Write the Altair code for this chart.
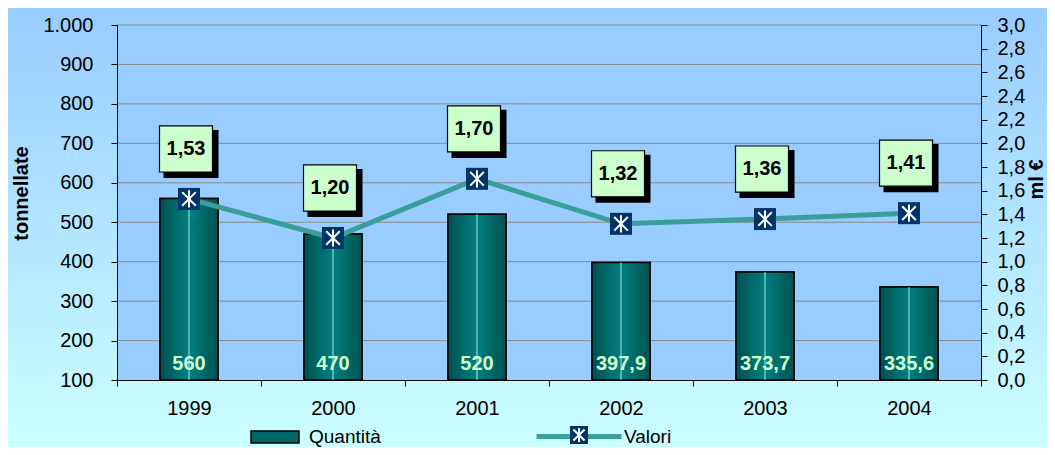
import altair as alt
import pandas as pd

years = ["1999", "2000", "2001", "2002", "2003", "2004"]
quantita = [560, 470, 520, 397.9, 373.7, 335.6]
valori = [1.53, 1.20, 1.70, 1.32, 1.36, 1.41]
quantita_labels = ["560", "470", "520", "397,9", "373,7", "335,6"]
valori_labels = ["1,53", "1,20", "1,70", "1,32", "1,36", "1,41"]
left_ticks = list(range(100, 1001, 100))
right_ticks = [round(i * 0.2, 1) for i in range(16)]
grid_values = list(range(200, 1001, 100))

W, H = 864, 355
PL, PT, PR, PB = 109, 17, 66, 67

df = pd.DataFrame({
    "year": years, "q": quantita, "v": valori,
    "ql": quantita_labels, "vl": valori_labels,
    "sq": "Quantità", "sv": "Valori", "sv2": "v2", "sv3": "v3",
})
grid_df = pd.DataFrame({"q": grid_values})
one = pd.DataFrame({"a": [0]})

FONT = "Liberation Sans"

x_enc = alt.X("year:O", scale=alt.Scale(paddingInner=0, paddingOuter=0),
              axis=alt.Axis(title=None, labelAngle=0, tickBand="extent", tickSize=6,
                            labelPadding=12, labelFontSize=20, labelColor="black",
                            domainColor="black", tickColor="black", grid=False, zindex=1))

left_scale = alt.Scale(domain=[100, 1000], nice=False, zero=False)
left_axis = alt.Axis(title="tonnellate", values=left_ticks, grid=False,
                     labelExpr="replace(format(datum.value, ',d'), ',', '.')",
                     labelFontSize=20, labelColor="black", labelPadding=18,
                     tickSize=6, tickColor="black", domainColor="black",
                     titleFontSize=20, titleFontWeight="bold", titleColor="black",
                     titlePadding=11, titleY=168, zindex=1)
yq = alt.Y("q:Q", scale=left_scale, axis=left_axis)
y_base = alt.YDatum(100, scale=left_scale, axis=left_axis)

right_scale = alt.Scale(domain=[0, 3], nice=False, zero=True)
right_axis = alt.Axis(title="ml €", orient="right", values=right_ticks, grid=False,
                      labelExpr="replace(format(datum.value, '.1f'), '.', ',')",
                      labelFontSize=20, labelColor="black", labelPadding=10,
                      tickSize=6, tickColor="black", domainColor="black",
                      titleFontSize=20, titleFontWeight="bold", titleColor="black",
                      titleAngle=270, titleBaseline="top", titlePadding=2, titleY=154,
                      zindex=1)
yv = alt.Y("v:Q", scale=right_scale, axis=right_axis)

bg = alt.Chart(one).mark_rect(
    color=alt.Gradient(gradient="linear",
                       stops=[alt.GradientStop(color="#99CCFF", offset=0),
                              alt.GradientStop(color="#CCFFFF", offset=1)],
                       x1=0, x2=0, y1=0, y2=1)
).encode(x=alt.value(-PL), x2=alt.value(W + PR), y=alt.value(-PT), y2=alt.value(H + PB))

plotbg = alt.Chart(one).mark_rect(color="#99CCFF").encode(
    x=alt.value(0), x2=alt.value(W), y=alt.value(0), y2=alt.value(H))

grid = alt.Chart(grid_df).mark_rule(color="#8a8a8a", strokeWidth=1).encode(y=yq)

base = alt.Chart(df)

bars_legend = alt.Fill("sq:N", scale=alt.Scale(domain=["Quantità"], range=["#006666"]),
                       legend=alt.Legend(title=None, orient="none", legendX=133, legendY=387,
                                         symbolType="M-1,-0.25H1V0.25H-1Z", symbolSize=2304,
                                         symbolStrokeColor="black", symbolStrokeWidth=1.5,
                                         labelFontSize=19, labelColor="black", labelOffset=9,
                                         labelFont=FONT))
bars_solid = base.mark_bar(size=58, stroke="black", strokeWidth=1.5).encode(
    x=x_enc, y=yq, y2=alt.Y2Datum(100), fill=bars_legend)

bars_grad = base.mark_bar(
    size=58, stroke="black", strokeWidth=1.5,
    color=alt.Gradient(gradient="linear",
                       stops=[alt.GradientStop(color="#004f4f", offset=0),
                              alt.GradientStop(color="#008080", offset=0.5),
                              alt.GradientStop(color="#005252", offset=1)],
                       x1=0, x2=1, y1=0, y2=0)
).encode(x=x_enc, y=yq, y2=alt.Y2Datum(100))

center_rule = base.mark_rule(color="#A8E8F0", strokeWidth=1).encode(
    x=x_enc, y=yq, y2=alt.Y2Datum(100))

bar_text = base.mark_text(baseline="bottom", dy=-6, fontSize=20, fontWeight="bold",
                          color="#CCFFCC", font=FONT).encode(x=x_enc, y=y_base, text="ql:N")

left = alt.layer(bg, plotbg, grid, bars_solid, bars_grad, center_rule, bar_text)

line = base.mark_line(strokeWidth=5).encode(
    x=x_enc, y=yv,
    stroke=alt.Stroke("sv:N", scale=alt.Scale(domain=["Valori"], range=["#3A9E99"]),
                      legend=alt.Legend(title=None, orient="none", legendX=417, legendY=366.5,
                                        symbolType="M-1,0H1", symbolSize=7225,
                                        symbolStrokeWidth=5, labelFontSize=19,
                                        labelColor="black", labelOffset=0, labelFont=FONT)))

squares = base.mark_square(size=484, opacity=1, filled=True).encode(
    x=x_enc, y=yv,
    color=alt.Color("sv2:N", scale=alt.Scale(domain=["v2"], range=["#003366"]),
                    legend=alt.Legend(title=None, orient="none", legendX=452, legendY=400,
                                      symbolType="square", symbolSize=324, symbolOpacity=1,
                                      labelExpr="''")))

AST = "M0,-0.78L0,0.78M-0.62,-0.62L0.62,0.62M-0.62,0.62L0.62,-0.62"
asterisks = base.mark_point(size=484, filled=False, color="white", strokeWidth=2, opacity=1).encode(
    x=x_enc, y=yv,
    shape=alt.Shape("sv3:N", scale=alt.Scale(domain=["v3"], range=[AST]),
                    legend=alt.Legend(title=None, orient="none", legendX=452, legendY=400,
                                      symbolSize=324, symbolStrokeColor="white",
                                      symbolStrokeWidth=2, symbolFillColor="transparent",
                                      labelExpr="''")))

BOX = "M-1,-0.87H1V0.87H-1Z"
shadow = base.mark_point(shape=BOX, size=2809, filled=True, fill="black", stroke="black",
                         opacity=1, xOffset=2, yOffset=-45).encode(x=x_enc, y=yv)
box = base.mark_point(shape=BOX, size=2809, filled=True, fill="#CCFFCC", stroke="black",
                      strokeWidth=1.2, opacity=1, xOffset=-3, yOffset=-50).encode(x=x_enc, y=yv)
box_text = base.mark_text(fontSize=20, fontWeight="bold", color="black", font=FONT,
                          dx=-3, dy=-50).encode(x=x_enc, y=yv, text="vl:N")

right = alt.layer(line, squares, asterisks, shadow, box, box_text)

chart = alt.layer(left, right).resolve_scale(y="independent").properties(
    width=W, height=H,
    autosize=alt.AutoSizeParams(type="none"),
    padding={"left": PL, "top": PT, "right": PR, "bottom": PB},
    background="#CCFFFF",
).configure(font=FONT).configure_view(stroke=None)

chart.save("out.html", embed_options={"renderer": "svg", "actions": False})
